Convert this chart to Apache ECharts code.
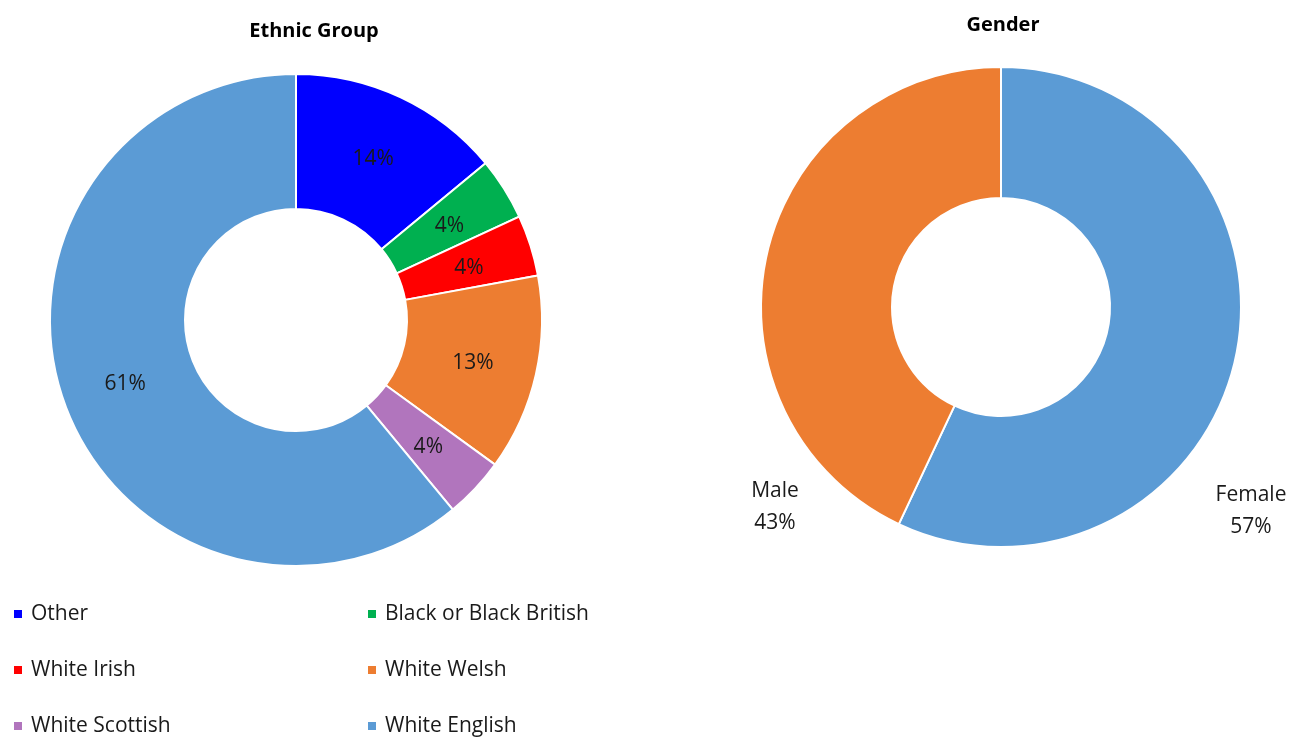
<!DOCTYPE html>
<html>
<head>
<meta charset="utf-8">
<script src="https://cdn.jsdelivr.net/npm/echarts@6/dist/echarts.min.js"></script>
<style>html,body{margin:0;padding:0;background:#fff;}#c{width:1290px;height:737px;}</style>
</head>
<body>
<div id="c"></div>
<script>
const ethnicCategories = ['Other', 'Black or Black British', 'White Irish', 'White Welsh', 'White Scottish', 'White English'];
const ethnicValues = [14, 4.1, 4, 12.9, 4, 61];
const ethnicColors = ['#0000FF', '#00B050', '#FF0000', '#ED7D31', '#B175BD', '#5B9BD5'];
const genderCategories = ['Female', 'Male'];
const genderValues = [57, 43];
const genderColors = ['#5B9BD5', '#ED7D31'];

const FONT = '"Open Sans", sans-serif';
const chart = echarts.init(document.getElementById('c'), null, {renderer: 'canvas'});

const labelPos = {Male: [775, 507], Female: [1251, 511]};

const legendBase = {
  orient: 'vertical', top: 603, padding: 0, itemWidth: 10, itemHeight: 10, itemGap: 34, icon: 'rect',
  textStyle: {fontFamily: FONT, fontSize: 21, color: '#1a1a1a', lineHeight: 22, padding: [0, 0, 0, 3]}
};

chart.setOption({
  animation: false,
  backgroundColor: '#fff',
  title: [
    {text: 'Ethnic Group', left: 309, top: 16, textAlign: 'center',
     textStyle: {fontFamily: FONT, fontSize: 20, fontWeight: 'bold', color: '#000'}},
    {text: 'Gender', left: 998, top: 10, textAlign: 'center',
     textStyle: {fontFamily: FONT, fontSize: 20, fontWeight: 'bold', color: '#000'}}
  ],
  legend: [
    Object.assign({}, legendBase, {left: 12, data: [ethnicCategories[0], ethnicCategories[2], ethnicCategories[4]]}),
    Object.assign({}, legendBase, {left: 366, data: [ethnicCategories[1], ethnicCategories[3], ethnicCategories[5]]})
  ],
  series: [
    {
      type: 'pie', name: 'Ethnic Group',
      center: [296, 320], radius: [111, 246],
      startAngle: 90, clockwise: true,
      avoidLabelOverlap: false,
      itemStyle: {borderColor: '#fff', borderWidth: 2},
      label: {show: true, position: 'inside', fontFamily: FONT, fontSize: 21, color: '#1a1a1a',
              offset: [0, 3],
              formatter: p => Math.round(p.percent) + '%'},
      labelLine: {show: false},
      emphasis: {disabled: true},
      data: ethnicCategories.map((n, i) => ({name: n, value: ethnicValues[i], itemStyle: {color: ethnicColors[i]}}))
    },
    {
      type: 'pie', name: 'Gender',
      center: [1001, 307], radius: [109, 240],
      startAngle: 90, clockwise: true,
      avoidLabelOverlap: false,
      legendHoverLink: false,
      itemStyle: {borderColor: '#fff', borderWidth: 2},
      label: {show: true, position: 'outside', fontFamily: FONT, fontSize: 21, color: '#1a1a1a',
              lineHeight: 32, align: 'center',
              formatter: p => p.name + '\n' + Math.round(p.percent) + '%'},
      labelLine: {show: false},
      labelLayout: function (params) {
        const name = genderCategories[params.dataIndex];
        const p = labelPos[name];
        return {x: p[0], y: p[1], align: 'center', verticalAlign: 'middle'};
      },
      emphasis: {disabled: true},
      data: genderCategories.map((n, i) => ({name: n, value: genderValues[i], itemStyle: {color: genderColors[i]}}))
    }
  ]
});
</script>
</body>
</html>
